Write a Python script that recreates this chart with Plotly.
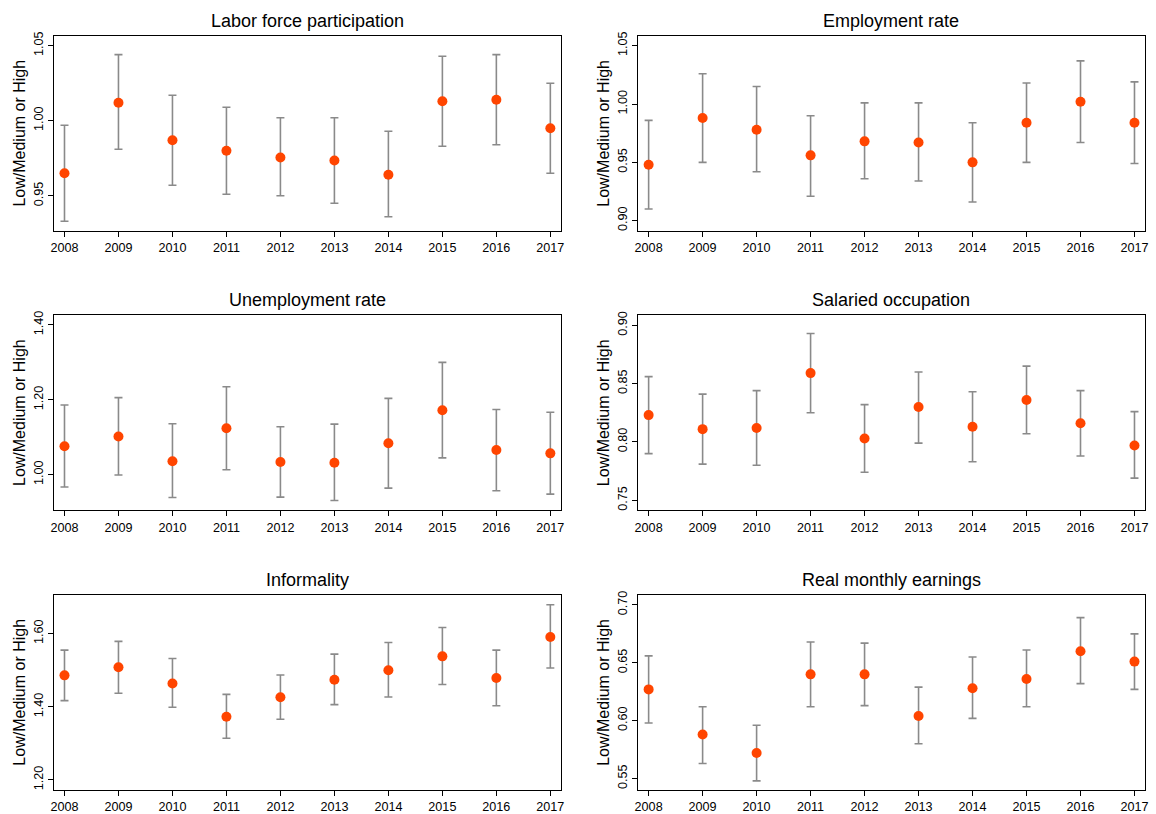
import plotly.graph_objects as go

years = [2008, 2009, 2010, 2011, 2012, 2013, 2014, 2015, 2016, 2017]

titles = ["Labor force participation", "Employment rate", "Unemployment rate",
          "Salaried occupation", "Informality", "Real monthly earnings"]

lfp_est = [0.965, 1.012, 0.987, 0.980, 0.9755, 0.9735, 0.964, 1.013, 1.014, 0.995]
lfp_lo = [0.933, 0.981, 0.957, 0.951, 0.950, 0.945, 0.936, 0.983, 0.984, 0.965]
lfp_hi = [0.997, 1.044, 1.017, 1.009, 1.002, 1.002, 0.993, 1.043, 1.044, 1.025]

emp_est = [0.948, 0.988, 0.978, 0.956, 0.968, 0.967, 0.950, 0.984, 1.002, 0.984]
emp_lo = [0.910, 0.950, 0.942, 0.921, 0.936, 0.934, 0.916, 0.950, 0.967, 0.949]
emp_hi = [0.986, 1.026, 1.015, 0.990, 1.001, 1.001, 0.984, 1.018, 1.037, 1.019]

unemp_est = [1.076, 1.102, 1.036, 1.124, 1.034, 1.032, 1.084, 1.172, 1.066, 1.057]
unemp_lo = [0.967, 0.999, 0.939, 1.013, 0.940, 0.931, 0.964, 1.045, 0.957, 0.948]
unemp_hi = [1.186, 1.206, 1.136, 1.235, 1.128, 1.135, 1.204, 1.300, 1.174, 1.167]

sal_est = [0.823, 0.811, 0.812, 0.859, 0.803, 0.830, 0.813, 0.836, 0.816, 0.797]
sal_lo = [0.790, 0.781, 0.780, 0.825, 0.774, 0.799, 0.783, 0.807, 0.788, 0.769]
sal_hi = [0.856, 0.841, 0.844, 0.893, 0.832, 0.860, 0.843, 0.865, 0.844, 0.826]

inf_est = [1.486, 1.508, 1.464, 1.373, 1.426, 1.474, 1.500, 1.538, 1.479, 1.591]
inf_lo = [1.417, 1.437, 1.399, 1.314, 1.366, 1.406, 1.427, 1.461, 1.403, 1.506]
inf_hi = [1.555, 1.579, 1.532, 1.434, 1.487, 1.544, 1.576, 1.617, 1.555, 1.679]

earn_est = [0.627, 0.588, 0.572, 0.640, 0.640, 0.604, 0.628, 0.636, 0.660, 0.651]
earn_lo = [0.598, 0.563, 0.548, 0.612, 0.613, 0.580, 0.602, 0.612, 0.632, 0.627]
earn_hi = [0.656, 0.612, 0.596, 0.668, 0.667, 0.629, 0.655, 0.661, 0.689, 0.675]

ytickvals = [[0.95, 1.00, 1.05], [0.90, 0.95, 1.00, 1.05], [1.00, 1.20, 1.40],
             [0.75, 0.80, 0.85, 0.90], [1.20, 1.40, 1.60], [0.55, 0.60, 0.65, 0.70]]
yranges = [[0.9268, 1.0566], [0.8915, 1.0585], [0.905, 1.4267],
           [0.7415, 0.9088], [1.173, 1.7068], [0.5402, 0.7089]]

series = [(lfp_est, lfp_lo, lfp_hi), (emp_est, emp_lo, emp_hi),
          (unemp_est, unemp_lo, unemp_hi), (sal_est, sal_lo, sal_hi),
          (inf_est, inf_lo, inf_hi), (earn_est, earn_lo, earn_hi)]

W, H = 1156, 814
col_px = [(51, 561), (638.7, 1148.7)]
row_px = [(32, 228.3), (313.3, 510), (595, 791.7)]

FONT = "Liberation Sans, Arial, Helvetica, sans-serif"
fig = go.Figure()
annotations = []

for i, (est, lo, hi) in enumerate(series):
    r, c = divmod(i, 2)
    n = i + 1
    xa = "x" if n == 1 else f"x{n}"
    ya = "y" if n == 1 else f"y{n}"
    plus = [h - e for h, e in zip(hi, est)]
    minus = [e - l for e, l in zip(est, lo)]
    fig.add_trace(go.Scatter(
        x=years, y=est, mode="markers", xaxis=xa, yaxis=ya, showlegend=False,
        marker=dict(size=10, color="#FF4500"),
        error_y=dict(type="data", symmetric=False, array=plus, arrayminus=minus,
                     color="#8a8a8a", thickness=1.6, width=4),
    ))
    x0, x1 = col_px[c]
    y0, y1 = row_px[r]
    xdom = [x0 / W, x1 / W]
    ydom = [1 - y1 / H, 1 - y0 / H]
    axis_common = dict(showline=True, linecolor="black", linewidth=1.3, mirror=True,
                       ticks="outside", ticklen=5, tickcolor="black", tickwidth=1,
                       showgrid=False, zeroline=False,
                       tickfont=dict(family=FONT, size=12.6, color="black"))
    fig.layout[f"xaxis{'' if n == 1 else n}"] = dict(
        domain=xdom, anchor=ya, range=[2007.8, 2017.19],
        tickvals=years, ticktext=[str(y) for y in years], **axis_common)
    fig.layout[f"yaxis{'' if n == 1 else n}"] = dict(
        domain=ydom, anchor=xa, range=yranges[i], tickvals=ytickvals[i],
        ticktext=[f"{v:.2f}" for v in ytickvals[i]], tickangle=-90, **axis_common)
    annotations.append(dict(
        text=titles[i], xref="paper", yref="paper", x=(x0 + x1) / 2 / W,
        y=1 - (y0 - 15) / H, showarrow=False, xanchor="center", yanchor="middle",
        font=dict(family=FONT, size=18, color="black")))
    annotations.append(dict(
        text="Low/Medium or High", xref="paper", yref="paper",
        x=(x0 - 34.5) / W, y=1 - ((y0 + y1) / 2) / H, textangle=-90, showarrow=False,
        xanchor="center", yanchor="middle",
        font=dict(family=FONT, size=16, color="black")))

fig.update_layout(width=W, height=H, margin=dict(l=0, r=0, t=0, b=0),
                  paper_bgcolor="white", plot_bgcolor="white",
                  annotations=annotations, font=dict(family=FONT))
fig.write_html("out.html")
